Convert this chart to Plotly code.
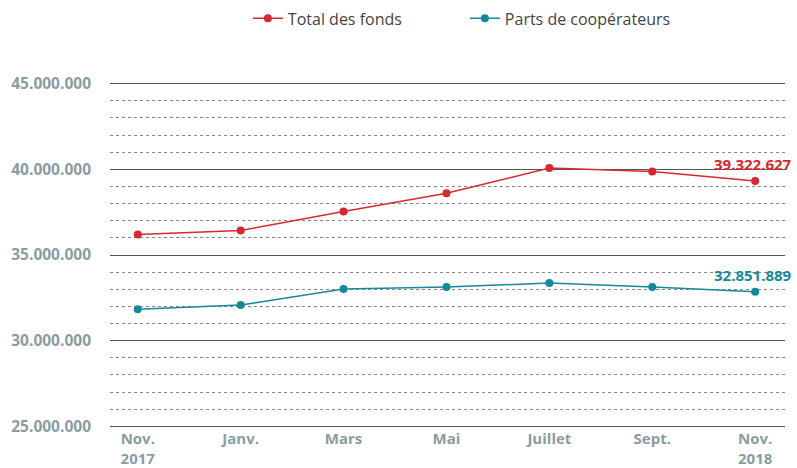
import plotly.graph_objects as go

categories = ["Nov.<br>2017", "Janv.", "Mars", "Mai", "Juillet", "Sept.", "Nov.<br>2018"]
total_fonds = [36200000, 36430000, 37540000, 38600000, 40080000, 39880000, 39322627]
parts_coop = [31840000, 32080000, 33010000, 33130000, 33360000, 33130000, 32851889]
series_names = ["Total des fonds", "Parts de coopérateurs"]
y_ticks = [25000000, 30000000, 35000000, 40000000, 45000000]

RED = "#d7282f"
TEAL = "#14899b"
TICK = "#8a9da2"

x = list(range(len(categories)))

fig = go.Figure()
fig.add_trace(go.Scatter(x=x, y=total_fonds, name=series_names[0], mode="lines+markers",
                         line=dict(color=RED, width=1.5), marker=dict(size=8, color=RED)))
fig.add_trace(go.Scatter(x=x, y=parts_coop, name=series_names[1], mode="lines+markers",
                         line=dict(color=TEAL, width=1.5), marker=dict(size=8, color=TEAL)))

fig.add_annotation(x=x[-1], y=total_fonds[-1], text="<b>39.322.627</b>", showarrow=False,
                   xanchor="right", yanchor="bottom", xshift=39, yshift=5,
                   font=dict(color=RED, size=15, family="Open Sans"))
fig.add_annotation(x=x[-1], y=parts_coop[-1], text="<b>32.851.889</b>", showarrow=False,
                   xanchor="right", yanchor="bottom", xshift=39, yshift=5,
                   font=dict(color=TEAL, size=15, family="Open Sans"))

fig.update_layout(
    width=797, height=468,
    margin=dict(l=110, r=12, t=82, b=40, autoexpand=False),
    plot_bgcolor="white", paper_bgcolor="white",
    separators=",.",
    font=dict(family="Open Sans", color="#444"),
    legend=dict(orientation="h", x=0.311, xref="container", xanchor="left",
                y=0.997, yref="container", yanchor="top",
                font=dict(size=16, color="#444"), entrywidth=172, entrywidthmode="pixels"),
    xaxis=dict(tickmode="array", tickvals=x, ticktext=["<b>%s</b>" % c for c in categories],
               range=[-0.27, 6.29], showgrid=False, zeroline=False, showline=False,
               tickfont=dict(size=15, color=TICK, family="Open Sans"), ticks=""),
    yaxis=dict(range=[24900000, 45100000], tickvals=y_ticks,
               ticktext=["<b>%s</b>" % f"{v:,}".replace(",", ".") for v in y_ticks],
               showgrid=True, gridcolor="#555", gridwidth=1, zeroline=False, showline=False,
               tickfont=dict(size=15.5, color=TICK, family="Open Sans"), ticklabelstandoff=18,
               minor=dict(dtick=1000000, tick0=0, showgrid=True, griddash="dot",
                          gridcolor="#888", gridwidth=1)),
)

fig.write_html("out.html", config={"displayModeBar": False},
               post_script="document.body.style.margin='0';document.documentElement.style.overflow='hidden';document.body.style.overflow='hidden';")
